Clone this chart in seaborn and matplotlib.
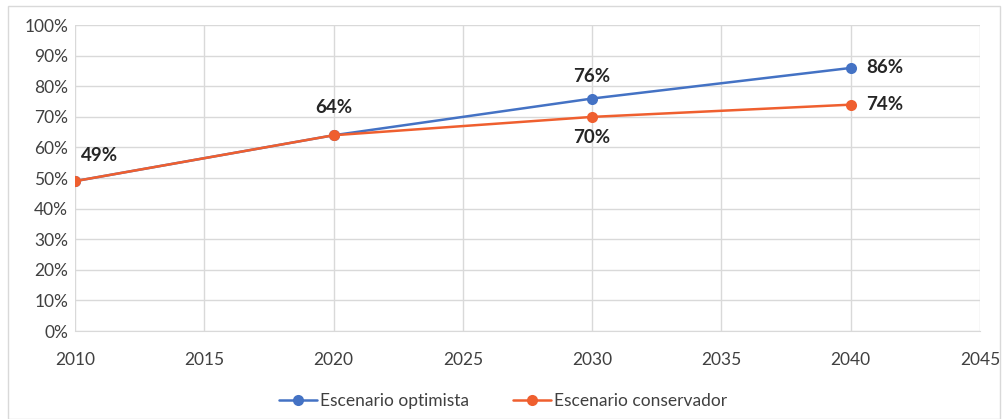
import numpy as np
import pandas as pd
import matplotlib.pyplot as plt
import seaborn as sns
from matplotlib.patches import Rectangle
from matplotlib.ticker import PercentFormatter

years = [2010, 2020, 2030, 2040]
optimista = [49, 64, 76, 86]
conservador = [49, 64, 70, 74]
series_names = ["Escenario optimista", "Escenario conservador"]

df = pd.DataFrame({
    "year": years * 2,
    "value": optimista + conservador,
    "serie": [series_names[0]] * 4 + [series_names[1]] * 4,
})

sns.set_style("white")
plt.rcParams['font.family'] = ['Lato', 'DejaVu Sans']

fig = plt.figure(figsize=(10.06, 4.19), dpi=100)
ax = fig.add_axes([0.0746, 0.21, 0.8994, 0.730])

palette = {series_names[0]: "#4472C4", series_names[1]: "#EF5F2F"}
sns.lineplot(data=df, x="year", y="value", hue="serie", palette=palette,
             marker="o", markersize=8, markeredgewidth=0, linewidth=1.8,
             ax=ax, zorder=3)

ax.set_xlim(2010, 2045)
ax.set_ylim(0, 100)
ax.set_xticks(np.arange(2010, 2046, 5))
ax.set_yticks(np.arange(0, 101, 10))
ax.yaxis.set_major_formatter(PercentFormatter(decimals=0))
ax.grid(True, color="#D9D9D9", linewidth=1)
for s in ["top", "right", "left"]:
    ax.spines[s].set_visible(False)
ax.spines["bottom"].set_color("#D9D9D9")
ax.tick_params(axis="both", labelsize=12.5, colors="#404040", length=0)
ax.tick_params(axis="x", pad=15)
ax.tick_params(axis="y", pad=5)
ax.set_xlabel("")
ax.set_ylabel("")

lab = dict(fontsize=13.5, fontweight="bold", color="#262626")
# data labels
ax.annotate(f"{optimista[0]}%", (years[0], optimista[0]), xytext=(4, 12), textcoords="offset points", ha="left", va="bottom", **lab)
ax.annotate(f"{optimista[1]}%", (years[1], optimista[1]), xytext=(0, 14), textcoords="offset points", ha="center", va="bottom", **lab)
ax.annotate(f"{optimista[2]}%", (years[2], optimista[2]), xytext=(0, 10), textcoords="offset points", ha="center", va="bottom", **lab)
ax.annotate(f"{conservador[2]}%", (years[2], conservador[2]), xytext=(0, -9), textcoords="offset points", ha="center", va="top", **lab)
ax.annotate(f"{optimista[3]}%", (years[3], optimista[3]), xytext=(11, 0), textcoords="offset points", ha="left", va="center", **lab)
ax.annotate(f"{conservador[3]}%", (years[3], conservador[3]), xytext=(11, 0), textcoords="offset points", ha="left", va="center", **lab)

handles, labels = ax.get_legend_handles_labels()
ax.legend(handles, labels, loc="center", bbox_to_anchor=(0.5, 0.043), bbox_transform=fig.transFigure,
          ncol=2, frameon=False, fontsize=12.5, handlelength=2.2, columnspacing=2.5,
          labelcolor="#404040", handletextpad=0.2)

fig.patches.append(Rectangle((0.008, 0.0), 0.986, 0.985, transform=fig.transFigure,
                             fill=False, edgecolor="#D9D9D9", linewidth=1))

fig.savefig("out.png", dpi=100)
